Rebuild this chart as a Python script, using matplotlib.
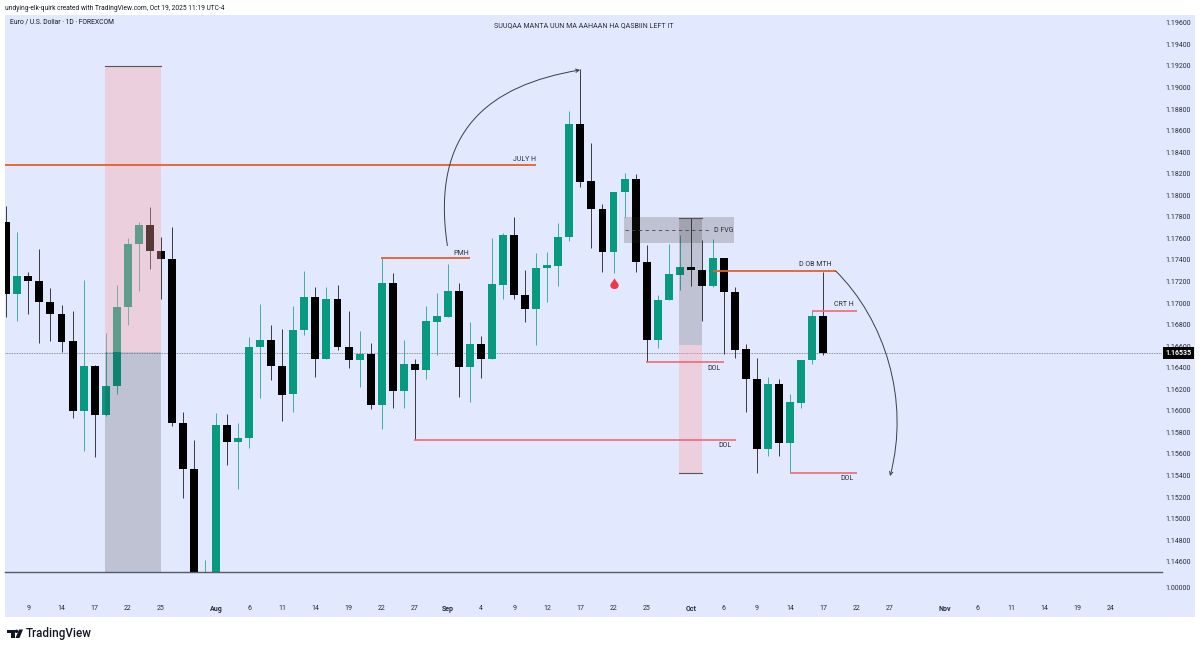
import numpy as np
import matplotlib
matplotlib.use('Agg')
import matplotlib.pyplot as plt
from matplotlib.path import Path
from matplotlib.patches import PathPatch, FancyArrowPatch, Rectangle, Circle, Polygon

plt.rcParams['font.family'] = ['Roboto', 'DejaVu Sans']

# Daily EUR/USD candles
opens = [1.17754, 1.17081, 1.17251, 1.17207, 1.17012, 1.16901, 1.16645, 1.15998, 1.16416, 1.15961,
         1.16228, 1.16963, 1.17548, 1.17724, 1.17483, 1.17408, 1.15887, 1.15465, 1.14350, 1.14420,
         1.15866, 1.15714, 1.15745, 1.16595, 1.16657, 1.16419, 1.16153, 1.16750, 1.17056, 1.16481,
         1.17037, 1.16589, 1.16469, 1.16527, 1.16051, 1.17186, 1.16187, 1.16432, 1.16376, 1.16827,
         1.16873, 1.17109, 1.16404, 1.16617, 1.16481, 1.17167, 1.17631, 1.17077, 1.16942, 1.17322,
         1.17343, 1.17612, 1.18664, 1.18132, 1.17875, 1.17471, 1.18027, 1.18150, 1.17378, 1.16657,
         1.17025, 1.17263, 1.17337, 1.17309, 1.17155, 1.17418, 1.17102, 1.16571, 1.16298, 1.15643,
         1.16246, 1.15699, 1.16075, 1.16472, 1.16877]
highs = [1.17903, 1.17656, 1.17291, 1.17498, 1.17142, 1.16979, 1.16926, 1.17214, 1.16428, 1.16719,
         1.17167, 1.17600, 1.17754, 1.17894, 1.17610, 1.17703, 1.15992, 1.15729, 1.14613, 1.15977,
         1.15971, 1.15884, 1.16688, 1.16988, 1.16796, 1.16756, 1.16975, 1.17300, 1.17151, 1.17151,
         1.17167, 1.16929, 1.16738, 1.16632, 1.17415, 1.17283, 1.16657, 1.16481, 1.16975, 1.17090,
         1.17362, 1.17183, 1.16821, 1.16694, 1.17600, 1.17652, 1.17795, 1.17306, 1.17461, 1.17476,
         1.17740, 1.18781, 1.19168, 1.18482, 1.17919, 1.18033, 1.18203, 1.18197, 1.17538, 1.17075,
         1.17548, 1.17631, 1.17786, 1.17585, 1.17591, 1.17418, 1.17151, 1.16617, 1.16487, 1.16311,
         1.16295, 1.16153, 1.16474, 1.16935, 1.17291]
lows = [1.16873, 1.16833, 1.16898, 1.16626, 1.16651, 1.16546, 1.15936, 1.15627, 1.15575, 1.15952,
        1.16153, 1.16796, 1.17114, 1.17313, 1.17035, 1.15859, 1.15194, 1.14200, 1.14200, 1.14300,
        1.15497, 1.15275, 1.15652, 1.16116, 1.16286, 1.15906, 1.15992, 1.16703, 1.16317, 1.16481,
        1.16564, 1.16400, 1.16224, 1.16017, 1.15831, 1.16029, 1.16029, 1.15739, 1.16292, 1.16518,
        1.16873, 1.16131, 1.16085, 1.16307, 1.16481, 1.17035, 1.17040, 1.16827, 1.16611, 1.17012,
        1.17161, 1.17575, 1.18079, 1.17508, 1.17291, 1.17279, 1.17801, 1.17285, 1.16456, 1.16580,
        1.17025, 1.17121, 1.17158, 1.16833, 1.17146, 1.16524, 1.16487, 1.15986, 1.15426, 1.15581,
        1.15581, 1.15426, 1.16023, 1.16432, 1.16518]
closes = [1.17081, 1.17251, 1.17204, 1.17010, 1.16898, 1.16641, 1.15998, 1.16416, 1.15961, 1.16228,
          1.16963, 1.17548, 1.17724, 1.17483, 1.17408, 1.15887, 1.15465, 1.14400, 1.14450, 1.15866,
          1.15714, 1.15745, 1.16595, 1.16657, 1.16416, 1.16150, 1.16750, 1.17056, 1.16481, 1.17037,
          1.16589, 1.16469, 1.16524, 1.16051, 1.17186, 1.16187, 1.16432, 1.16376, 1.16833, 1.16877,
          1.17109, 1.16404, 1.16617, 1.16481, 1.17174, 1.17631, 1.17072, 1.16942, 1.17328, 1.17350,
          1.17615, 1.18664, 1.18125, 1.17872, 1.17471, 1.18030, 1.18150, 1.17378, 1.16657, 1.17028,
          1.17269, 1.17337, 1.17306, 1.17155, 1.17418, 1.17100, 1.16567, 1.16295, 1.15643, 1.16246,
          1.15699, 1.16079, 1.16474, 1.16877, 1.16535]

date_bars = [2, 5, 8, 11, 14, 19, 22, 25, 28, 31, 34, 37, 40, 43, 46, 49, 52, 55, 58,
             62, 65, 68, 71, 74, 77, 80, 85, 88, 91, 94, 97, 100]
date_labels = ['9', '14', '17', '22', '25', 'Aug', '6', '11', '14', '19', '22', '27', 'Sep', '4', '9', '12',
               '17', '22', '25', 'Oct', '6', '9', '14', '17', '22', '27', 'Nov', '6', '11', '14', '19', '24']
bold_labels = ['Aug', 'Sep', 'Oct', 'Nov']
price_ticks = [1.196, 1.194, 1.192, 1.190, 1.188, 1.186, 1.184, 1.182, 1.180, 1.178, 1.176, 1.174, 1.172,
               1.170, 1.168, 1.166, 1.164, 1.162, 1.160, 1.158, 1.156, 1.154, 1.152, 1.150, 1.148, 1.146]
last_price = 1.16535

# drawn levels: start bar, end bar, price
orange_levels = [(-0.12, 47.98, 1.18280), (33.94, 41.99, 1.17415), (64.04, 75.13, 1.17297)]
red_levels = [(57.94, 65.03, 1.16456), (36.93, 66.07, 1.15732), (70.96, 77.05, 1.15426), (73.0, 77.05, 1.16929)]
level_labels = ['JULY H', 'PMH', 'D OB MTH', 'CRT H', 'DOL', 'DOL', 'DOL', 'D FVG']
label_bars = [46.9, 41.19, 73.25, 75.88, 64.1, 65.1, 76.15, 65.0]
label_prices = [1.18336, 1.17464, 1.17353, 1.16991, 1.16397, 1.15676, 1.15370, 1.17677]

BG = '#E2E8FD'
BULL = '#089981'
BEAR = '#000000'
PINK = (1.0, 0.64, 0.63, 0.35)
GREY = (0.18, 0.18, 0.16, 0.20)
ORANGE = '#E4602A'
RED = '#EE6A78'
TXT = '#2A2E39'

fig = plt.figure(figsize=(12, 6.5), dpi=100, facecolor='white')

# pixel axes for the panel, header and logo
bg = fig.add_axes([0, 0, 1, 1], zorder=0)
bg.set_xlim(0, 1200)
bg.set_ylim(650, 0)
bg.axis('off')
bg.add_patch(Rectangle((5, 15), 1190, 602, color=BG, lw=0))
bg.text(5, 8, 'undying-elk-quirk created with TradingView.com, Oct 19, 2025 11:19 UTC-4',
        fontsize=4.75, color='#131722', va='center')
bg.text(10, 22.5, 'Euro / U.S. Dollar · 1D · FOREXCOM', fontsize=4.9, color='#131722', va='center')
bg.text(583.5, 26, 'SUUQAA MANTA UUN MA AAHAAN HA QASBIIN LEFT IT', fontsize=5.1, color=TXT,
        ha='center', va='center')
bg.text(26, 634, 'TradingView', fontsize=8.4, color='#131722', va='center', fontweight='medium')
# logo
bg.add_patch(Polygon([(7, 629.5), (15, 629.5), (15, 638), (11, 638), (11, 633), (7, 633)], color='#131722', lw=0))
bg.add_patch(Circle((16.5, 631.3), 1.7, color='#131722', lw=0))
bg.add_patch(Polygon([(19, 629.5), (23, 629.5), (19.5, 638), (15.5, 638)], color='#131722', lw=0))

ax = fig.add_axes([5 / 1200, 78 / 650, 1157 / 1200, 557 / 650], zorder=2)
low = fig.add_axes([5 / 1200, 33 / 650, 1157 / 1200, 45 / 650], zorder=2)
for a in (ax, low):
    a.set_facecolor('none')
    a.set_xlim(-0.118, 104.68)
    for s in a.spines.values():
        s.set_visible(False)

# candles
bars = np.arange(len(opens))
o, h, l, c = map(np.array, (opens, highs, lows, closes))
colors = [BULL if up else BEAR for up in c >= o]
ax.vlines(bars, l, h, colors=colors, lw=0.7, alpha=0.75, zorder=2)
ax.bar(bars, np.abs(c - o), bottom=np.minimum(o, c), width=0.72, color=colors, lw=0, zorder=3)

ax.set_ylim(1.14505, 1.19672)
ax.yaxis.tick_right()
ax.set_yticks(price_ticks)
ax.set_yticklabels([f'{p:.5f}' for p in price_ticks], fontsize=5, color=TXT)
ax.tick_params(axis='y', length=0, pad=2.5)
ax.set_xticks([])

low.set_ylim(0.971, 1.016)
low.yaxis.tick_right()
low.set_yticks([1.0])
low.set_yticklabels(['1.00000'], fontsize=5, color=TXT)
low.tick_params(axis='y', length=0, pad=2.5)
low.set_xticks(date_bars)
low.set_xticklabels(date_labels, fontsize=5, color=TXT)
low.tick_params(axis='x', length=0, pad=-8.5)
for t in low.get_xticklabels():
    if t.get_text() in bold_labels:
        t.set_fontweight('bold')
low.axhline(1.016, color='#565A66', lw=1.0, clip_on=False)

# last price
ax.axhline(last_price, color='#70747F', lw=0.6, ls=(0, (1, 1)), zorder=1)
ax.annotate(f'{last_price:.5f}', xy=(1, last_price), xycoords=('axes fraction', 'data'), xytext=(2.5, 0),
            textcoords='offset points', fontsize=5, fontweight='bold', color='white', va='center', zorder=8,
            bbox=dict(boxstyle='square,pad=0.3', fc='black', ec='black', lw=0), annotation_clip=False)

# trade boxes
ax.add_patch(Rectangle((8.94, 1.16546), 5.03, 1.19199 - 1.16546, fc=PINK, lw=0, zorder=5))
ax.add_patch(Rectangle((8.94, 1.14505), 5.03, 1.16546 - 1.14505, fc=GREY, lw=0, zorder=5))
ax.plot([8.94, 13.97], [1.19199, 1.19199], color='#555555', lw=0.8, zorder=6)
ax.add_patch(Rectangle((60.97, 1.16611), 2.03, 1.17792 - 1.16611, fc=GREY, lw=0, zorder=5))
ax.add_patch(Rectangle((60.97, 1.15426), 2.03, 1.16611 - 1.15426, fc=PINK, lw=0, zorder=5))
ax.plot([60.97, 63.0], [1.17792, 1.17792], color='#555555', lw=0.8, zorder=6)
ax.plot([60.97, 63.0], [1.15426, 1.15426], color='#555555', lw=0.8, zorder=6)

# FVG box and its midline
ax.add_patch(Rectangle((55.98, 1.17554), 9.96, 1.17801 - 1.17554, fc=GREY, lw=0, zorder=5))
ax.plot([56, 63.74], [1.17677, 1.17677], color='#444444', lw=0.6, ls=(0, (4, 4)), zorder=6)

for x0, x1, y in orange_levels:
    ax.plot([x0, x1], [y, y], color=ORANGE, lw=1.3, zorder=6, solid_capstyle='butt')
for x0, x1, y in red_levels:
    ax.plot([x0, x1], [y, y], color=RED, lw=1.2, zorder=6, solid_capstyle='butt')
for x, y, s in zip(label_bars, label_prices, level_labels):
    ax.text(x, y, s, fontsize=5.0, color=TXT, ha='center', va='center', zorder=7)

# curved arrows
for pts in ([(39.95, 1.17533), (38.38, 1.18605), (43.81, 1.19022), (51.97, 1.19162)],
            [(75.13, 1.17297), (79.59, 1.16843), (81.86, 1.16100), (80.05, 1.15395)]):
    curve = Path(pts, [Path.MOVETO, Path.CURVE4, Path.CURVE4, Path.CURVE4])
    ax.add_patch(FancyArrowPatch(path=curve, arrowstyle='->', mutation_scale=6, lw=0.7, color='#3A3E4A', zorder=7))

# red drop under the wick
drop = Path([(0, 1), (-0.15, 0.45), (-0.75, 0.1), (-0.75, -0.35), (-0.75, -0.8), (-0.35, -1), (0, -1),
             (0.35, -1), (0.75, -0.8), (0.75, -0.35), (0.75, 0.1), (0.15, 0.45), (0, 1)],
            [Path.MOVETO] + [Path.CURVE4] * 12)
ax.plot([55], [1.17186], marker=drop, ms=8, color='#F23645', mew=0, zorder=7)

plt.savefig('out.png', dpi=100)
